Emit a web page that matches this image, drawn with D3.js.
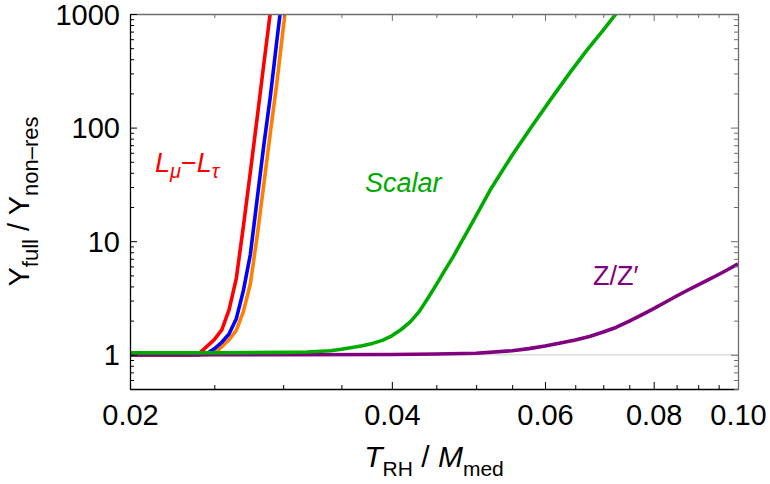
<!DOCTYPE html>
<html><head><meta charset="utf-8">
<script src="https://cdn.jsdelivr.net/npm/d3@7"></script>
<style>body{margin:0;background:#fff}</style>
</head><body><svg id="c" width="770" height="484"></svg>
<script>
// ---- data ----
const redX    = [0.020, 0.0235, 0.0240, 0.0245, 0.0250, 0.0255, 0.0260, 0.0265, 0.0270, 0.0275, 0.0280, 0.0285, 0.0290];
const redY    = [1.0,   1.0,    1.02,   1.18,   1.36,   1.66,   2.50,   4.7,    13.5,   40.3,   121,    362,    1040];
const blueX   = [0.020, 0.0240, 0.0245, 0.0250, 0.0255, 0.0260, 0.0265, 0.0270, 0.0275, 0.0280, 0.0285, 0.0290, 0.0295, 0.0300];
const blueY   = [1.0,   1.0,    1.02,   1.13,   1.29,   1.53,   2.08,   3.67,   7.6,    23.3,   70,     189,    580,    1680];
const orangeX = [0.020, 0.0245, 0.0250, 0.0255, 0.0260, 0.0265, 0.0270, 0.0275, 0.0280, 0.0285, 0.0290, 0.0295, 0.0300, 0.0305];
const orangeY = [1.0,   1.0,    1.02,   1.18,   1.36,   1.64,   2.4,    4.2,    11,     31.5,   90.5,   246,    745,    2080];
const greenX  = [0.020, 0.025, 0.030, 0.032, 0.034, 0.035, 0.036, 0.037, 0.038, 0.039, 0.040, 0.041, 0.042, 0.043, 0.044, 0.045, 0.046, 0.047, 0.048, 0.049, 0.050, 0.052, 0.055, 0.058, 0.061, 0.064, 0.067, 0.070, 0.073];
const greenY  = [1.04,  1.04,  1.05,  1.06,  1.085, 1.12,  1.16,  1.20,  1.26,  1.34,  1.47,  1.67,  1.95,  2.40,  3.15,  4.15,  5.5,   7.2,   9.6,   12.7,  16.8,  29,    57,    104,   180,   300,   478,   720,   1090];
const purpleX = [0.020, 0.030, 0.040, 0.045, 0.050, 0.055, 0.0575, 0.060, 0.0625, 0.065, 0.0675, 0.070, 0.0725, 0.075, 0.0775, 0.080, 0.0825, 0.085, 0.0875, 0.090, 0.0925, 0.095, 0.0975, 0.100];
const purpleY = [1.0,   1.0,   1.005, 1.015, 1.033, 1.087, 1.134,  1.196, 1.27,   1.35,  1.45,   1.586, 1.75,   1.98,  2.25,   2.55,  2.90,   3.29,  3.70,   4.13,  4.59,   5.09,  5.66,   6.31];

const xMajor = [0.02, 0.04, 0.06, 0.08, 0.10];
const xMajorLabels = ["0.02", "0.04", "0.06", "0.08", "0.10"];
const xMinor = [0.025, 0.03, 0.035, 0.045, 0.05, 0.055, 0.065, 0.07, 0.075, 0.085, 0.09, 0.095];
const yMajor = [1, 10, 100, 1000];
const yMajorLabels = ["1", "10", "100", "1000"];
const yMinor = [0.5, 0.6, 0.7, 0.8, 0.9, 2, 3, 4, 5, 6, 7, 8, 9, 20, 30, 40, 50, 60, 70, 80, 90, 200, 300, 400, 500, 600, 700, 800, 900];

// ---- layout ----
const L = 130, R = 738, T = 14, B = 389;
const svg = d3.select("#c");
const font = "'Liberation Sans', Arial, sans-serif";
const x = d3.scaleLog().domain([0.02, 0.1]).range([L, R]);
const y = d3.scaleLog().domain([0.5, 1000]).range([B, T]);

svg.append("defs").append("clipPath").attr("id", "clip")
  .append("rect").attr("x", L).attr("y", T).attr("width", R - L).attr("height", B - T);

// gridline at 1
svg.append("line").attr("x1", L).attr("x2", R).attr("y1", y(1)).attr("y2", y(1))
  .attr("stroke", "#dcdcdc").attr("stroke-width", 1.5);

// curves
const line = d3.line().x(d => x(d[0])).y(d => y(d[1]));
const series = [
  {xs: orangeX, ys: orangeY, c: "#ff8000"},
  {xs: blueX, ys: blueY, c: "#0000ff"},
  {xs: redX, ys: redY, c: "#ff0000"},
  {xs: purpleX, ys: purpleY, c: "#800080"},
  {xs: greenX, ys: greenY, c: "#00aa00"}
];
const g = svg.append("g").attr("clip-path", "url(#clip)");
series.forEach(s => {
  g.append("path").datum(s.xs.map((v, i) => [v, s.ys[i]]))
    .attr("d", line).attr("fill", "none").attr("stroke", s.c)
    .attr("stroke-width", 3.6).attr("stroke-linejoin", "round");
});

// axes (ticks inward)
function ax(gen, tr, vals, size, fmt, color) {
  const a = svg.append("g").attr("transform", tr)
    .call(gen.tickValues(vals).tickSize(size).tickSizeOuter(0).tickFormat(fmt));
  a.select(".domain").attr("stroke", color).attr("stroke-width", 1.3);
  a.selectAll(".tick line").attr("stroke", color).attr("stroke-width", 1);
  a.selectAll("text").attr("font-family", font).attr("font-size", 29).attr("fill", "#000");
  return a;
}
const none = () => "";
// bottom
const bx = ax(d3.axisBottom(x), `translate(0,${B})`, xMajor, -7, (d, i) => xMajorLabels[i], "#000");
bx.selectAll("text").attr("y", 0).attr("dy", 0).attr("transform", "translate(0,36)");
ax(d3.axisBottom(x), `translate(0,${B})`, xMinor, -4, none, "#000").select(".domain").remove();
// top
ax(d3.axisTop(x), `translate(0,${T})`, xMajor, -7, none, "#6e6e6e");
ax(d3.axisTop(x), `translate(0,${T})`, xMinor, -4, none, "#6e6e6e").select(".domain").remove();
// left
const ly = ax(d3.axisLeft(y), `translate(${L},0)`, yMajor, -7, (d, i) => yMajorLabels[i], "#000");
ly.selectAll("text").attr("x", -10).attr("dy", "0.35em");
ax(d3.axisLeft(y), `translate(${L},0)`, yMinor, -4, none, "#000").select(".domain").remove();
// right
ax(d3.axisRight(y), `translate(${R},0)`, yMajor, -7, none, "#6e6e6e");
ax(d3.axisRight(y), `translate(${R},0)`, yMinor, -4, none, "#6e6e6e").select(".domain").remove();

// axis titles
const xt = svg.append("text").attr("x", (L + R) / 2).attr("y", 467)
  .attr("text-anchor", "middle").attr("font-family", font).attr("font-size", 30);
xt.append("tspan").attr("font-style", "italic").text("T");
xt.append("tspan").attr("font-size", 21).attr("dy", 9).text("RH");
xt.append("tspan").attr("dy", -9).text(" / ");
xt.append("tspan").attr("font-style", "italic").text("M");
xt.append("tspan").attr("font-size", 21).attr("dy", 9).text("med");

const yt = svg.append("text").attr("transform", `translate(29,${(T + B) / 2}) rotate(-90)`)
  .attr("text-anchor", "middle").attr("font-family", font).attr("font-size", 29);
yt.append("tspan").text("Y");
yt.append("tspan").attr("font-size", 22).attr("dy", 9).text("full");
yt.append("tspan").attr("dy", -9).text(" / ");
yt.append("tspan").text("Y");
yt.append("tspan").attr("font-size", 22).attr("dy", 9).text("non\u2013res");

// annotations
const lt = svg.append("text").attr("x", 155).attr("y", 172).attr("font-family", font)
  .attr("font-size", 27).attr("fill", "#ff0000").attr("font-style", "italic");
lt.append("tspan").text("L");
lt.append("tspan").attr("font-size", 20).attr("dy", 6).text("\u03bc");
lt.append("tspan").attr("dy", -6).attr("font-style", "normal").text("\u2212");
lt.append("tspan").text("L");
lt.append("tspan").attr("font-size", 20).attr("dy", 6).text("\u03c4");

svg.append("text").attr("x", 365).attr("y", 192).attr("font-family", font)
  .attr("font-size", 27).attr("font-style", "italic").attr("fill", "#00aa00").text("Scalar");
svg.append("text").attr("x", 593).attr("y", 285).attr("font-family", font)
  .attr("font-size", 27).attr("fill", "#800080").text("Z/Z\u2032");
</script>
</body></html>
